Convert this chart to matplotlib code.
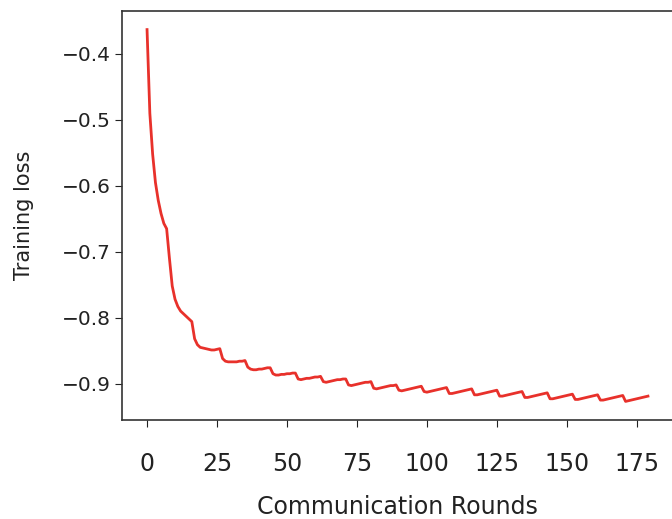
import numpy as np
import matplotlib.pyplot as plt

# training loss per communication round
loss = [
    -0.363, -0.490, -0.552, -0.595, -0.622, -0.642, -0.657, -0.665, -0.710, -0.752,
    -0.772, -0.783, -0.790, -0.794, -0.798, -0.802, -0.806, -0.832,
    -0.841, -0.845, -0.846, -0.847, -0.848, -0.849, -0.849, -0.848, -0.847,
    -0.862, -0.866, -0.867, -0.867, -0.867, -0.867, -0.866, -0.866, -0.865,
    -0.875, -0.878, -0.879, -0.879, -0.878, -0.878, -0.877, -0.876, -0.876,
    -0.885, -0.887, -0.887, -0.886, -0.886, -0.885, -0.885, -0.884, -0.884,
    -0.893, -0.894, -0.893, -0.892, -0.892, -0.891, -0.890, -0.890, -0.889,
    -0.897, -0.898, -0.897, -0.896, -0.895, -0.894, -0.894, -0.893, -0.893,
    -0.902, -0.903, -0.902, -0.901, -0.900, -0.899, -0.898, -0.898, -0.897,
    -0.907, -0.908, -0.907, -0.906, -0.905, -0.904, -0.903, -0.903, -0.902,
    -0.910, -0.911, -0.910, -0.909, -0.908, -0.907, -0.906, -0.905, -0.904,
    -0.912, -0.913, -0.912, -0.911, -0.910, -0.909, -0.908, -0.907, -0.906,
    -0.915, -0.915, -0.914, -0.913, -0.912, -0.911, -0.910, -0.909, -0.908,
    -0.917, -0.917, -0.916, -0.915, -0.914, -0.913, -0.912, -0.911, -0.910,
    -0.919, -0.919, -0.918, -0.917, -0.916, -0.915, -0.914, -0.913, -0.912,
    -0.921, -0.921, -0.920, -0.919, -0.918, -0.917, -0.916, -0.915, -0.914,
    -0.923, -0.923, -0.922, -0.921, -0.920, -0.919, -0.918, -0.917, -0.916,
    -0.924, -0.924, -0.923, -0.922, -0.921, -0.920, -0.919, -0.918, -0.917,
    -0.925, -0.925, -0.924, -0.923, -0.922, -0.921, -0.920, -0.919, -0.918,
    -0.927, -0.926, -0.925, -0.924, -0.923, -0.922, -0.921, -0.920, -0.919,
]
rounds = np.arange(len(loss))

xticks = [0, 25, 50, 75, 100, 125, 150, 175]
yticks = [-0.4, -0.5, -0.6, -0.7, -0.8, -0.9]

fig = plt.figure(figsize=(6.72, 5.19), dpi=100)
ax = fig.add_axes([122 / 672, 1 - 420 / 519, 551 / 672, 409 / 519])

ax.plot(rounds, loss, color='#e8312b', lw=2)

ax.set_xticks(xticks)
ax.set_xticklabels([str(t) for t in xticks], fontsize=17)
ax.set_yticks(yticks)
ax.set_yticklabels([f"\u2212{abs(t):.1f}" for t in yticks], fontsize=14.5)
ax.tick_params(axis='x', length=5, pad=18, colors='#222222')
ax.tick_params(axis='y', length=5, pad=3, colors='#222222')

ax.set_xlabel("Communication Rounds", fontsize=17, labelpad=14, color='#222222')
ax.set_ylabel("Training loss", fontsize=15, labelpad=20, color='#222222')

for s in ax.spines.values():
    s.set_color('#333333')
    s.set_linewidth(1.2)

fig.savefig("out.png", dpi=100)
